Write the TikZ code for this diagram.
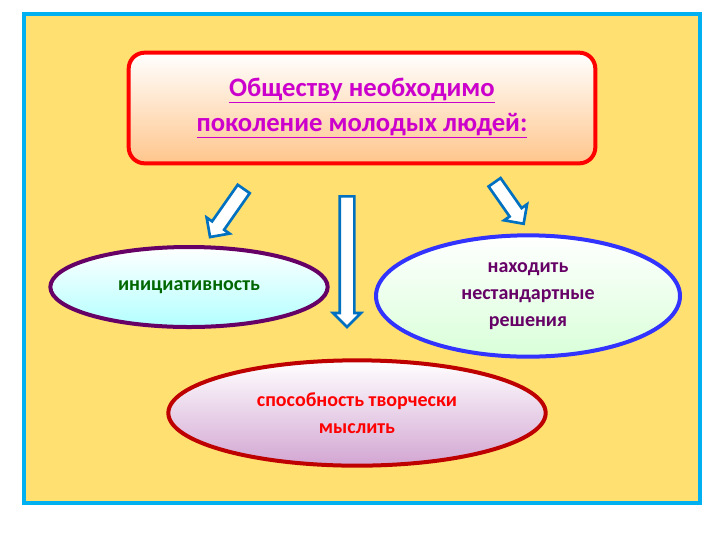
\documentclass[tikz,border=0pt]{standalone}
\usepackage{fontspec}
\setmainfont{Carlito}
\usetikzlibrary{shapes.arrows,shapes.geometric,positioning}
\definecolor{bgyellow}{RGB}{255,224,112}
\definecolor{frame}{RGB}{0,176,240}
\definecolor{arrowblue}{RGB}{0,112,192}
\definecolor{titlepink}{RGB}{204,0,204}
\tikzset{
  oval/.style={ellipse, line width=3pt, inner sep=0pt, font=\bfseries\fontsize{15}{20}\selectfont, align=center},
  hollow/.style={single arrow, draw=arrowblue, fill=white, line width=2pt,
                 single arrow head extend=5pt, inner sep=4.5pt}
}
\begin{document}
\begin{tikzpicture}[x=0.75pt,y=-0.75pt]
\useasboundingbox (0,0) rectangle (720,540);
\fill[white] (0,0) rectangle (720,540);
\draw[frame, line width=3pt, fill=bgyellow] (24,14) rectangle (700,503);

\node[draw=red, line width=3pt, rounded corners=12pt, minimum width=350pt, minimum height=83pt,
      top color=white, bottom color=orange!45, font=\bfseries\fontsize{20}{26}\selectfont,
      text=titlepink, align=center] (title) at (362,108)
      {\underline{Обществу необходимо}\\ \underline{поколение молодых людей:}};

\node[oval, draw=violet!80!black, minimum width=208pt, minimum height=60pt,
      top color=white, bottom color=cyan!30, text=green!40!black] (init) at (189,287) {инициативность};
\node[oval, draw=blue!80, minimum width=228pt, minimum height=91pt,
      top color=white, bottom color=green!15, text=violet!80!black] (find) at (528,296)
      {находить\\нестандартные\\решения};
\node[oval, draw=red!75!black, minimum width=283pt, minimum height=79pt,
      top color=white, bottom color=violet!35, text=red] (think) at (357,413)
      {способность творчески\\мыслить};

\node[hollow, rotate=-125, minimum height=44pt] (a1) at (229,210) {};
\node[hollow, rotate=-90, minimum height=98pt] (a2) at (347,258) {};
\node[hollow, rotate=-55, minimum height=38pt] (a3) at (507,200) {};
\end{tikzpicture}
\end{document}
